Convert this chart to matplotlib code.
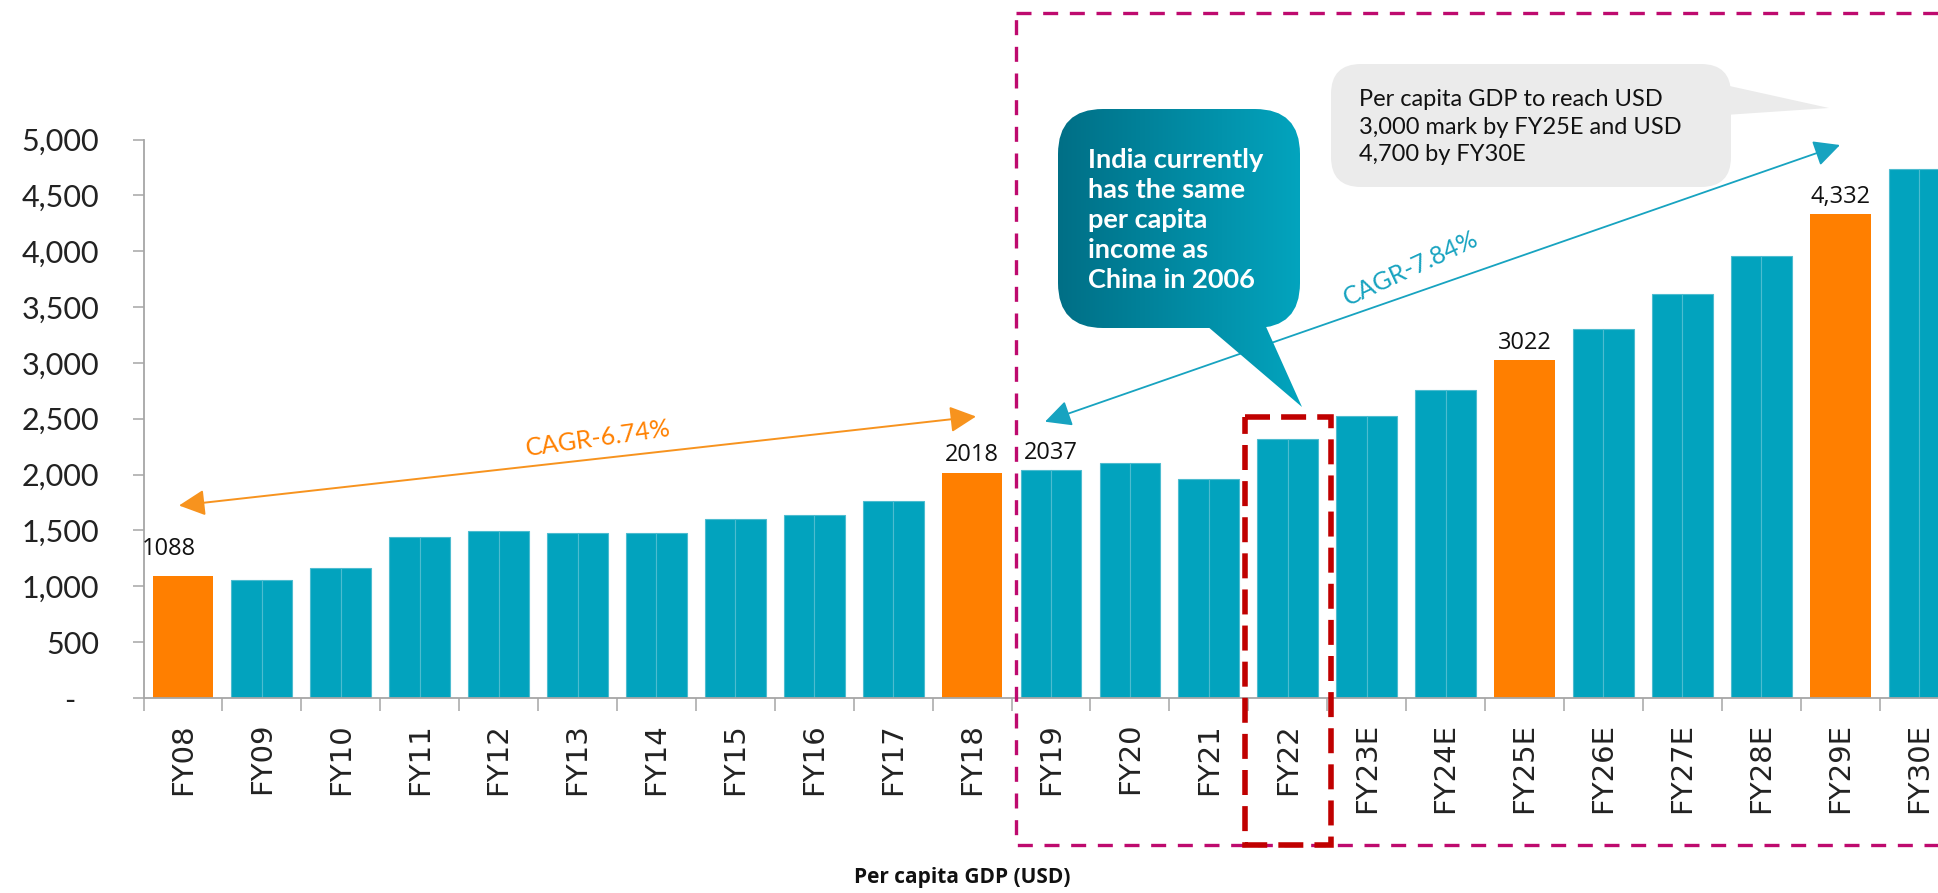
import numpy as np
import matplotlib
matplotlib.use('Agg')
import matplotlib.pyplot as plt
from matplotlib.patches import FancyBboxPatch, Polygon, Rectangle
from matplotlib.ticker import FuncFormatter, FixedLocator

years = ['FY08', 'FY09', 'FY10', 'FY11', 'FY12', 'FY13', 'FY14', 'FY15', 'FY16',
         'FY17', 'FY18', 'FY19', 'FY20', 'FY21', 'FY22', 'FY23E', 'FY24E', 'FY25E',
         'FY26E', 'FY27E', 'FY28E', 'FY29E', 'FY30E']
gdp = [1088, 1060, 1165, 1438, 1492, 1478, 1481, 1604, 1635, 1760, 2018, 2037, 2108,
       1962, 2315, 2527, 2753, 3022, 3303, 3614, 3954, 4332, 4740]
highlight = ['FY08', 'FY18', 'FY25E', 'FY29E']
value_labels = {'FY08': '1088', 'FY18': '2018', 'FY19': '2037', 'FY25E': '3022', 'FY29E': '4,332'}

TEAL = '#02A3BE'
TEAL_LINE = '#4DBCD0'
ORANGE = '#FF7F00'
GREY = '#A6A6A6'
W, H = 1938, 893

fig = plt.figure(figsize=(W / 100, H / 100), dpi=100)
ax = fig.add_axes([143.5 / W, 1 - 698 / H, 1 - 143.5 / W, (698 - 139.5) / H])

x = np.arange(len(years))
bw = 0.77
for i, (yr, v) in enumerate(zip(years, gdp)):
    if yr in highlight:
        ax.bar(i, v, width=bw, color=ORANGE, linewidth=0, zorder=2)
    else:
        # teal bars show a faint split down the middle
        ax.bar([i - bw / 4, i + bw / 4], [v, v], width=bw / 2, color=TEAL,
               edgecolor=TEAL_LINE, linewidth=0.8, zorder=2)

for yr, lab in value_labels.items():
    i = years.index(yr)
    dx, dy = (-10, 11) if i == 0 else (0, 4)
    ax.annotate(lab, (i, gdp[i]), xytext=(dx, dy), textcoords='offset points',
                ha='center', va='bottom', fontsize=17, family='Open Sans', color='#111111')

ax.set_xlim(-0.5, 22.24)
ax.set_ylim(0, 5000)
ax.set_yticks(np.arange(0, 5001, 500))
ax.yaxis.set_major_formatter(FuncFormatter(lambda v, p: '-   ' if v == 0 else f'{int(v):,}'))
ax.tick_params(axis='y', length=8, width=1.1, color=GREY, pad=24, labelsize=22)
for t in ax.get_yticklabels():
    t.set_family('Lato')
    t.set_color('#222222')

ax.xaxis.set_major_locator(FixedLocator(np.arange(-0.5, len(years), 1)))
ax.xaxis.set_minor_locator(FixedLocator(x))
ax.set_xticklabels([], minor=False)
ax.set_xticklabels(years, minor=True, rotation=90, fontsize=21, family='DejaVu Sans', color='#222222')
ax.tick_params(axis='x', which='major', length=9, width=1.1, color=GREY)
ax.tick_params(axis='x', which='minor', length=0, pad=18)

for s in ['top', 'right']:
    ax.spines[s].set_visible(False)
for s in ['left', 'bottom']:
    ax.spines[s].set_color(GREY)
    ax.spines[s].set_linewidth(1.3)

fig.text(962 / W, 1 - 878 / H, 'Per capita GDP (USD)', ha='center', va='center',
         fontsize=15, fontweight='bold', family='Open Sans', color='#111111')

# overlay in pixel coordinates for callouts
ov = fig.add_axes([0, 0, 1, 1], zorder=5)
ov.set_xlim(0, W)
ov.set_ylim(H, 0)
ov.axis('off')

ov.add_patch(Rectangle((1016, 12.7), 1000, 832, fill=False, edgecolor='#BE0A6E',
                       linewidth=2.4, linestyle=(0, (4.5, 3.5))))
ov.add_patch(Rectangle((1245, 416.7), 86, 428, fill=False, edgecolor='#C00000',
                       linewidth=4, linestyle=(0, (4.5, 2))))

# teal speech bubble with gradient
box = FancyBboxPatch((1058, 109), 242, 219, boxstyle='round,pad=0,rounding_size=45',
                     facecolor='none', edgecolor='none')
tail = Polygon([(1200, 320), (1263, 320), (1302, 407)], closed=True,
               facecolor='none', edgecolor='none')
ov.add_patch(box)
ov.add_patch(tail)
grad = np.linspace(0, 1, 256).reshape(1, -1)
cmap = matplotlib.colors.LinearSegmentedColormap.from_list('tg', ['#006F86', '#03A5BF'])
for p in (box, tail):
    im = ov.imshow(grad, cmap=cmap, extent=[1058, 1305, 410, 109], aspect='auto', zorder=3)
    im.set_clip_path(p)
ov.set_xlim(0, W)
ov.set_ylim(H, 0)
ov.text(1088, 220, 'India currently\nhas the same\nper capita\nincome as\nChina in 2006',
        ha='left', va='center', color='white', fontsize=19.5, fontweight='bold',
        family='Lato', linespacing=1.3, zorder=4)

# grey speech bubble
ov.add_patch(FancyBboxPatch((1331, 64), 400, 123, boxstyle='round,pad=0,rounding_size=30',
                            facecolor='#EBEBEB', edgecolor='none', zorder=3))
ov.add_patch(Polygon([(1725, 85), (1725, 115), (1829, 108)], closed=True,
                     facecolor='#EBEBEB', edgecolor='none', zorder=3))
ov.text(1359, 127, 'Per capita GDP to reach USD\n3,000 mark by FY25E and USD\n4,700 by FY30E',
        ha='left', va='center', color='#111111', fontsize=17, family='Lato',
        linespacing=1.4, zorder=4)

# CAGR arrows
ov.annotate('', xy=(976, 416.5), xytext=(179, 505.5),
            arrowprops=dict(arrowstyle='<|-|>,head_length=0.8,head_width=0.4',
                            color='#F7931E', lw=1.4, mutation_scale=20, shrinkA=0, shrinkB=0))
ov.text(598, 438, 'CAGR-6.74%', rotation=8, ha='center', va='center', color='#FF8000',
        fontsize=18, family='Lato', rotation_mode='anchor')
ov.annotate('', xy=(1840, 145), xytext=(1045, 421.7),
            arrowprops=dict(arrowstyle='<|-|>,head_length=0.8,head_width=0.4',
                            color='#17A3C0', lw=1.3, mutation_scale=20, shrinkA=0, shrinkB=0),
            zorder=2)
ov.text(1411, 268, 'CAGR-7.84%', rotation=25, ha='center', va='center', color='#17A3C0',
        fontsize=18, family='Lato', rotation_mode='anchor')

fig.savefig('out.png', dpi=100)
